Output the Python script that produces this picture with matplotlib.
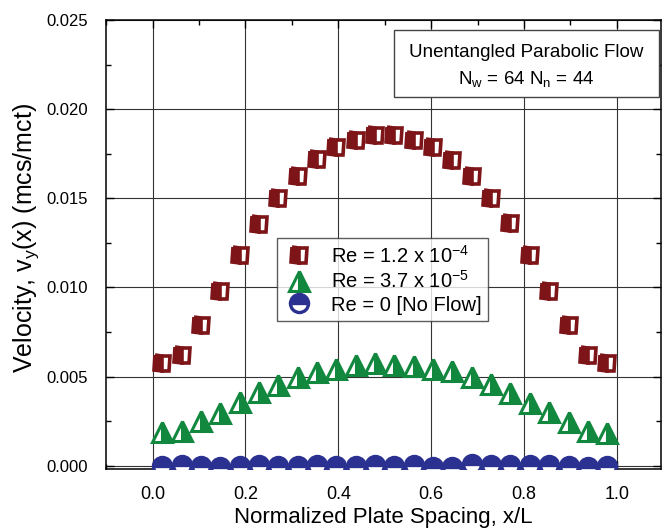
import numpy as np
import matplotlib
matplotlib.use("Agg")
import matplotlib.pyplot as plt
from matplotlib.patches import Rectangle
from matplotlib.ticker import MultipleLocator

plt.rcParams["font.family"] = ["Liberation Sans", "DejaVu Sans"]
plt.rcParams["mathtext.default"] = "regular"

# bin centres across the gap (24 bins)
x_pos = (np.arange(24) + 0.5) / 24

v_high = [0.00575, 0.00622, 0.00787, 0.00981, 0.01184, 0.01358, 0.01504, 0.01624,
          0.01719, 0.01787, 0.01830, 0.01854, 0.01854, 0.01830, 0.01789, 0.01718,
          0.01624, 0.01504, 0.01361, 0.01185, 0.00981, 0.00787, 0.00622, 0.00575]
v_low = [0.00187, 0.00197, 0.00249, 0.00296, 0.00356, 0.00412, 0.00453, 0.00500,
         0.00524, 0.00543, 0.00567, 0.00575, 0.00567, 0.00562, 0.00543, 0.00530,
         0.00496, 0.00459, 0.00406, 0.00350, 0.00300, 0.00247, 0.00197, 0.00181]
v_zero = [0.0, 0.00006, 0.0, -0.00006, -0.00004, 0.00006, 0.0, 0.0,
          0.00004, -0.00004, 0.0, 0.00004, 0.0, 0.00004, -0.0001, -0.0001,
          0.0001, 0.00004, 0.00006, 0.00004, 0.00004, 0.0, -0.0001, 0.0]

red = "#7d1418"
green = "#12883f"
blue = "#2a3190"

fig = plt.figure(figsize=(6.63, 5.32), dpi=100)
ax = fig.add_axes([0.160, 0.118, 0.837, 0.844])

ax.plot(x_pos, v_high, ls="none", marker="s", ms=10.8, mew=2.6,
        color=red, mec=red, fillstyle="left", markerfacecoloralt="white",
        label=r"Re = 1.2 x 10$^{-4}$", zorder=3)
ax.plot(x_pos, v_low, ls="none", marker="^", ms=14.5, mew=2.2,
        color=green, mec=green, fillstyle="right", markerfacecoloralt="white",
        label=r"Re = 3.7 x 10$^{-5}$", zorder=3)
ax.plot(x_pos, v_zero, ls="none", marker="o", ms=13, mew=2.4,
        color=blue, mec=blue, fillstyle="top", markerfacecoloralt="white",
        label="Re = 0 [No Flow]", zorder=3)

ax.set_xlim(-0.1, 1.095)
ax.set_ylim(-0.0002, 0.025)
ax.xaxis.set_major_locator(MultipleLocator(0.2))
ax.xaxis.set_minor_locator(MultipleLocator(0.1))
ax.yaxis.set_major_locator(MultipleLocator(0.005))
ax.yaxis.set_minor_locator(MultipleLocator(0.0025))
ax.set_xticks([0.0, 0.2, 0.4, 0.6, 0.8, 1.0])
ax.xaxis.set_major_formatter(plt.FormatStrFormatter("%.1f"))
ax.yaxis.set_major_formatter(plt.FormatStrFormatter("%.3f"))

ax.tick_params(which="both", direction="in", top=True, right=True, width=1.0)
ax.tick_params(which="major", length=6)
ax.tick_params(which="minor", length=3.5)
ax.tick_params(axis="x", labelsize=13, pad=12)
ax.tick_params(axis="y", labelsize=12, pad=13)
for s in ax.spines.values():
    s.set_linewidth(1.1)

ax.grid(True, which="major", color="#333333", lw=0.8)
ax.set_axisbelow(True)

ax.set_xlabel("Normalized Plate Spacing, x/L", fontsize=16, labelpad=3)
ax.set_ylabel(r"Velocity, v$_y$(x) (mcs/mct)", fontsize=18)
ax.yaxis.set_label_coords(-0.118, 0.516)

leg = ax.legend(loc="upper left", bbox_to_anchor=(0.308, 0.514), fontsize=14.5,
                frameon=True, fancybox=False, edgecolor="#333333",
                handletextpad=0.8, borderpad=0.3, labelspacing=0.18,
                handlelength=1.6, borderaxespad=0)
leg.get_frame().set_linewidth(1.0)
leg.set_zorder(5)

# info box in the upper right corner
ax.add_patch(Rectangle((0.519, 0.8285), 0.477, 0.1495, transform=ax.transAxes,
                       fc="white", ec="#444444", lw=1.0, zorder=6))
ax.text(0.7575, 0.918, "Unentangled Parabolic Flow", transform=ax.transAxes,
        ha="center", va="baseline", fontsize=13.5, zorder=7)
ax.text(0.7575, 0.859, r"N$_w$ = 64 N$_n$ = 44", transform=ax.transAxes,
        ha="center", va="baseline", fontsize=13.5, zorder=7)

fig.savefig("out.png", dpi=100)
